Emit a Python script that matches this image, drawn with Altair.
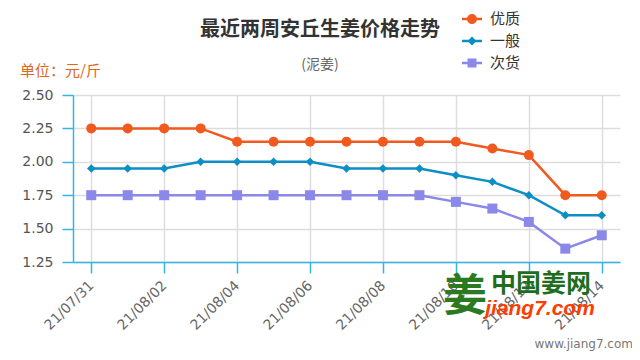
import altair as alt
import pandas as pd

# ---------------- data ----------------
dates = ["21/07/31", "21/08/01", "21/08/02", "21/08/03", "21/08/04",
         "21/08/05", "21/08/06", "21/08/07", "21/08/08", "21/08/09",
         "21/08/10", "21/08/11", "21/08/12", "21/08/13", "21/08/14"]
series = ["优质", "一般", "次货"]
youzhi = [2.25, 2.25, 2.25, 2.25, 2.15, 2.15, 2.15, 2.15, 2.15, 2.15, 2.15, 2.10, 2.05, 1.75, 1.75]
yiban = [1.95, 1.95, 1.95, 2.00, 2.00, 2.00, 2.00, 1.95, 1.95, 1.95, 1.90, 1.85, 1.75, 1.60, 1.60]
cihuo = [1.75, 1.75, 1.75, 1.75, 1.75, 1.75, 1.75, 1.75, 1.75, 1.75, 1.70, 1.65, 1.55, 1.35, 1.45]
y_ticks = [1.25, 1.50, 1.75, 2.00, 2.25, 2.50]
x_tick_idx = [0, 2, 4, 6, 8, 10, 12, 14]

title_text = "最近两周安丘生姜价格走势"
subtitle_text = "(泥姜)"
unit_text = "单位：元/斤"

# ---------------- styles ----------------
colors = ["#f05a1e", "#0d8fc5", "#8a88e8"]
shapes = ["circle", "diamond", "square"]
sizes = [100, 72, 100]
legend_paths = [
    "M-1,-0.13H1V0.13H-1Z M-0.5,0A0.5,0.5 0 1,1 0.5,0A0.5,0.5 0 1,1 -0.5,0Z",
    "M-1,-0.13H1V0.13H-1Z M0,-0.45L0.45,0L0,0.45L-0.45,0Z",
    "M-1,-0.13H1V0.13H-1Z M-0.45,-0.45H0.45V0.45H-0.45Z",
]
AX = "#33b4e4"
CJK = "Noto Sans CJK SC"
W, H = 547, 167

rows = []
for name, vals in zip(series, [youzhi, yiban, cihuo]):
    for i, (d, v) in enumerate(zip(dates, vals)):
        rows.append({"idx": i, "date": d, "series": name, "value": v})
df = pd.DataFrame(rows)

label_expr = "[" + ",".join("'%s'" % d for d in dates) + "][datum.value]"

x_enc = alt.X("idx:Q",
              scale=alt.Scale(domain=[-0.5, 14.5], nice=False, zero=False),
              axis=alt.Axis(values=x_tick_idx, labelExpr=label_expr, title=None,
                            labelAngle=-45, labelAlign="right", labelBaseline="middle",
                            labelPadding=10, tickSize=11, grid=True, labelColor="#666666"))
y_enc = alt.Y("value:Q",
              scale=alt.Scale(domain=[1.25, 2.5], nice=False, zero=False),
              axis=alt.Axis(values=y_ticks, format=".2f", title=None,
                            tickSize=11, labelPadding=9, grid=True))

base = alt.Chart(df)
layers = []
for name, c, s, sz in zip(series, colors, shapes, sizes):
    sub = base.transform_filter(alt.datum.series == name)
    layers.append(sub.mark_line(color=c, strokeWidth=2.5).encode(x=x_enc, y=y_enc))
for name, c, s, sz in zip(series, colors, shapes, sizes):
    sub = base.transform_filter(alt.datum.series == name)
    layers.append(sub.mark_point(color=c, shape=s, size=sz, filled=True, opacity=1)
                  .encode(x=x_enc, y=y_enc))

leg = alt.Legend(title=None, orient="none", legendX=389, legendY=-86,
                 symbolSize=400, symbolOpacity=1, symbolStrokeWidth=0,
                 labelFont=CJK, labelFontSize=15, labelColor="#333333",
                 labelOffset=8, rowPadding=4, padding=0)
legend_layer = base.mark_point(filled=True, opacity=0).encode(
    x=x_enc, y=y_enc,
    color=alt.Color("series:N", scale=alt.Scale(domain=series, range=colors), legend=leg),
    shape=alt.Shape("series:N", scale=alt.Scale(domain=series, range=legend_paths), legend=leg),
)
layers.append(legend_layer)


def text_layer(txt, x, y, **kw):
    return alt.Chart(pd.DataFrame({"t": [txt]})).mark_text(**kw).encode(
        text="t:N", x=alt.value(x), y=alt.value(y))


layers.append(text_layer(title_text, 247, -65, font=CJK, fontSize=20, fontWeight="bold",
                         color="#333333", align="center", baseline="middle"))
layers.append(text_layer(subtitle_text, 247, -30, font=CJK, fontSize=14,
                         color="#666666", align="center", baseline="middle"))
layers.append(text_layer(unit_text, -53, -24, font=CJK, fontSize=15,
                         color="#e0661a", align="left", baseline="middle"))
# watermark
layers.append(text_layer("姜", 392, 203, font=CJK, fontSize=44, fontWeight="bold",
                         color="#2b7a22", align="center", baseline="middle"))
layers.append(text_layer("中国姜网", 468, 189, font=CJK, fontSize=25, fontWeight="bold",
                         color="#1e6e1e", align="center", baseline="middle"))
layers.append(text_layer("jiang7.com", 467, 214, font="Liberation Sans", fontSize=21,
                         fontWeight="bold", fontStyle="italic",
                         color="#ff3c00", align="center", baseline="middle"))
layers.append(text_layer("www.jiang7.com", 560, 249, font="DejaVu Sans", fontSize=12,
                         color="#777777", align="right", baseline="middle"))

chart = alt.layer(*layers).properties(
    width=W, height=H,
    autosize=alt.AutoSizeParams(type="none"),
    padding={"left": 65, "top": 87, "right": 12, "bottom": 90},
).configure_axis(
    domainColor=AX, tickColor=AX, domainWidth=1.5, tickWidth=1.5,
    gridColor="#dddddd", gridWidth=1.5,
    labelColor="#555555", labelFont="DejaVu Sans", labelFontSize=14,
).configure_view(stroke=None)

chart.save("out.html", embed_options={"renderer": "svg", "actions": False})
